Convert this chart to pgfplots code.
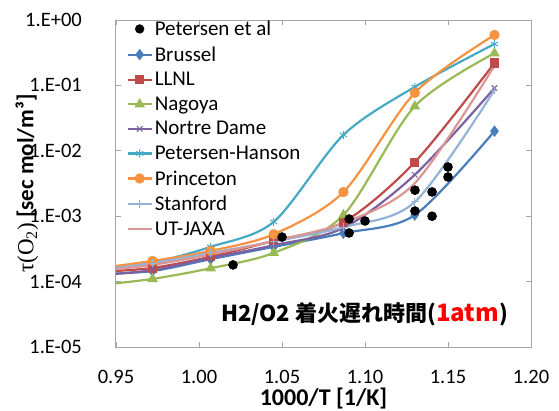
\documentclass[border=0pt]{standalone}
\usepackage{pgfplots}
\pgfplotsset{compat=1.18}
\usepackage{fontspec}
\setmainfont{Carlito}
\newfontfamily\cjk{Noto Sans CJK JP}
\newfontfamily\serifgr{Liberation Serif}
\definecolor{cBr}{HTML}{4A7EBB}
\definecolor{cLL}{HTML}{BE4B48}
\definecolor{cNa}{HTML}{98B954}
\definecolor{cND}{HTML}{7D60A0}
\definecolor{cPH}{HTML}{46AAC5}
\definecolor{cPr}{HTML}{F69240}
\definecolor{cSt}{HTML}{95B3D7}
\definecolor{cUT}{HTML}{D99694}
\definecolor{axgray}{HTML}{A6A6A6}
\begin{document}
\begin{tikzpicture}
\begin{axis}[
  scale only axis, width=415pt, height=327pt,
  xmin=0.95, xmax=1.20, ymode=log, ymin=1e-5, ymax=1,
  xtick={0.95,1.00,1.05,1.10,1.15,1.20},
  xticklabels={0.95,1.00,1.05,1.10,1.15,1.20},
  ytick={1e-5,1e-4,1e-3,1e-2,1e-1,1},
  yticklabels={1.E-05,1.E-04,1.E-03,1.E-02,1.E-01,1.E+00},
  yminorticks=false,
  tick align=inside, major tick length=5pt,
  tick style={color=axgray, line width=0.8pt},
  axis line style={color=axgray, line width=1pt},
  ticklabel style={font=\fontsize{20.5}{20.5}\selectfont, inner sep=1pt},
  xticklabel style={yshift=-22pt},
  yticklabel style={xshift=-33pt},
  xlabel={\bfseries 1000/T [1/K]},
  xlabel style={font=\fontsize{24}{24}\selectfont, inner sep=0pt, at={(axis description cs:0.5,-0.156)}, anchor=center},
  ylabel={{\serifgr τ(O\textsubscript{2})} \bfseries [sec mol/m³]},
  ylabel style={font=\fontsize{23}{23}\selectfont, inner sep=0pt, at={(axis description cs:-0.2145,0.5)}, anchor=center},
  legend style={at={(axis description cs:0.025,1.004)}, anchor=north west, draw=none, fill=none,
    font=\fontsize{21}{21}\selectfont, inner sep=0pt, row sep=5.6pt, cells={anchor=west}},
  legend image code/.code={\draw[mark repeat=2,mark phase=2,#1] plot coordinates {(0pt,0pt)(12pt,0pt)(24pt,0pt)};},
  every axis plot/.append style={line width=2.2pt},
]
% Petersen et al (experimental)
\addplot[only marks, mark=*, mark size=3.5pt, color=black]
  coordinates {(1.0205,1.8e-4)(1.050,4.8e-4)(1.0904,9.06e-4)(1.100,8.45e-4)(1.0904,5.54e-4)
  (1.1301,2.5e-3)(1.1404,2.35e-3)(1.150,5.65e-3)(1.150,3.98e-3)(1.1301,1.2e-3)(1.1404,1.0e-3)};
\addlegendentry{Petersen et al}
\addplot[smooth, color=cBr, mark=diamond*, mark size=4pt]
  coordinates {(0.939,1.30e-4)(0.972,1.45e-4)(1.007,2.2e-4)(1.045,3.4e-4)(1.087,5.5e-4)(1.130,1.04e-3)(1.178,0.020)};
\addlegendentry{Brussel}
\addplot[smooth, color=cLL, mark=square*, mark size=3.5pt]
  coordinates {(0.939,1.40e-4)(0.972,1.62e-4)(1.007,2.4e-4)(1.045,4.2e-4)(1.087,8.1e-4)(1.130,6.7e-3)(1.178,0.22)};
\addlegendentry{LLNL}
\addplot[smooth, color=cNa, mark=triangle*, mark size=4pt]
  coordinates {(0.939,8.8e-5)(0.972,1.1e-4)(1.007,1.6e-4)(1.045,2.75e-4)(1.087,1.04e-3)(1.130,0.048)(1.178,0.31)};
\addlegendentry{Nagoya}
\addplot[smooth, color=cND, mark=x, mark size=4pt, mark options={line width=1pt}]
  coordinates {(0.939,1.25e-4)(0.972,1.5e-4)(1.007,2.3e-4)(1.045,3.6e-4)(1.087,6.6e-4)(1.130,4.3e-3)(1.178,0.091)};
\addlegendentry{Nortre Dame}
\addplot[smooth, color=cPH, mark=asterisk, mark size=4pt, mark options={line width=1pt}]
  coordinates {(0.939,1.5e-4)(0.972,1.95e-4)(1.007,3.4e-4)(1.045,8.2e-4)(1.087,0.0175)(1.130,0.095)(1.178,0.43)};
\addlegendentry{Petersen-Hanson}
\addplot[smooth, color=cPr, mark=*, mark size=4pt]
  coordinates {(0.939,1.6e-4)(0.972,2.07e-4)(1.007,2.95e-4)(1.045,5.3e-4)(1.087,2.34e-3)(1.130,0.077)(1.178,0.59)};
\addlegendentry{Princeton}
\addplot[smooth, color=cSt, mark=+, mark size=4pt, mark options={line width=1pt}]
  coordinates {(0.939,1.5e-4)(0.972,1.92e-4)(1.007,2.74e-4)(1.045,4.1e-4)(1.087,6.8e-4)(1.130,1.65e-3)(1.178,0.085)};
\addlegendentry{Stanford}
\addplot[smooth, color=cUT, no marks]
  coordinates {(0.939,1.45e-4)(0.972,1.8e-4)(1.007,2.6e-4)(1.045,4.2e-4)(1.087,7.9e-4)(1.130,3.2e-3)(1.178,0.20)};
\addlegendentry{UT-JAXA}
\addplot[only marks, mark=*, mark size=3.5pt, color=black, forget plot]
  coordinates {(1.0205,1.8e-4)(1.050,4.8e-4)(1.0904,9.06e-4)(1.100,8.45e-4)(1.0904,5.54e-4)
  (1.1301,2.5e-3)(1.1404,2.35e-3)(1.150,5.65e-3)(1.150,3.98e-3)(1.1301,1.2e-3)(1.1404,1.0e-3)};
\node[anchor=center, font=\fontsize{22}{22}\selectfont, inner sep=0pt] at (axis cs:1.0997,3.2e-5)
  {\cjk\bfseries H2/O2 着火遅れ時間(\textcolor{red}{\fontsize{24}{24}\selectfont 1atm})};
\end{axis}
\pgfresetboundingbox
\path ([xshift=-116pt,yshift=-63pt]current axis.south west) rectangle ([xshift=28pt,yshift=20pt]current axis.north east);
\end{tikzpicture}
\end{document}
